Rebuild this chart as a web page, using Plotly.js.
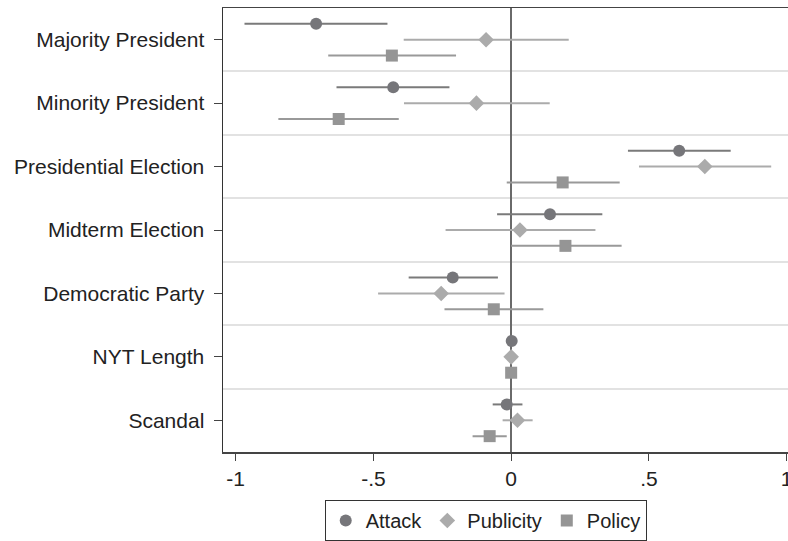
<!DOCTYPE html>
<html>
<head>
<meta charset="utf-8">
<script src="https://cdn.plot.ly/plotly-3.0.1.min.js"></script>
<style>html,body{margin:0;padding:0;background:#fff;}#chart{width:788px;height:541px;}</style>
</head>
<body>
<div id="chart"></div>
<script>
const categories = ["Majority President","Minority President","Presidential Election","Midterm Election","Democratic Party","NYT Length","Scandal"];

const attackEst   = [-0.708, -0.428, 0.610, 0.141, -0.212, 0.002, -0.016];
const attackLow   = [-0.968, -0.634, 0.424, -0.051, -0.372, -0.004, -0.067];
const attackHigh  = [-0.449, -0.224, 0.797, 0.331, -0.048, 0.008, 0.041];

const publicityEst  = [-0.091, -0.126, 0.703, 0.032, -0.254, 0.000, 0.023];
const publicityLow  = [-0.390, -0.389, 0.464, -0.238, -0.483, -0.006, -0.031];
const publicityHigh = [0.209, 0.140, 0.944, 0.306, -0.024, 0.006, 0.078];

const policyEst  = [-0.433, -0.626, 0.187, 0.197, -0.063, 0.000, -0.078];
const policyLow  = [-0.664, -0.845, -0.016, 0.000, -0.242, -0.006, -0.140];
const policyHigh = [-0.200, -0.408, 0.394, 0.401, 0.117, 0.006, -0.016];

const xTickVals = [-1, -0.5, 0, 0.5, 1];
const xTickText = ["-1", "-.5", "0", ".5", "1"];

const idx = categories.map((c, i) => i);

function series(name, est, low, high, offset, symbol, mColor, lColor, size) {
  return {
    type: "scatter", mode: "markers", name: name,
    x: est, y: idx.map(i => i + offset),
    marker: {symbol: symbol, color: mColor, size: size, line: {width: 0}},
    error_x: {type: "data", symmetric: false,
      array: est.map((v, i) => high[i] - v),
      arrayminus: est.map((v, i) => v - low[i]),
      color: lColor, thickness: 2, width: 0},
    hoverinfo: "x+name"
  };
}

const data = [
  series("Attack", attackEst, attackLow, attackHigh, -0.25, "circle", "#76767a", "#7a7a7a", 12),
  series("Publicity", publicityEst, publicityLow, publicityHigh, 0, "diamond", "#ababab", "#ababab", 12),
  series("Policy", policyEst, policyLow, policyHigh, 0.25, "square", "#959595", "#999999", 12)
];

const layout = {
  width: 788, height: 541,
  margin: {l: 223, r: 0, t: 8, b: 87},
  paper_bgcolor: "#fff", plot_bgcolor: "#fff",
  font: {family: "Liberation Sans, Arial, sans-serif", size: 21, color: "#222"},
  showlegend: true,
  legend: {orientation: "h", x: 0.465, xanchor: "center", y: -0.108, yanchor: "top",
    bordercolor: "#333", borderwidth: 1, font: {size: 20, color: "#222"},
    itemwidth: 30, tracegroupgap: 0},
  xaxis: {
    range: [-1.046, 1.005], tickmode: "array", tickvals: xTickVals, ticktext: xTickText,
    ticks: "outside", ticklen: 7, tickcolor: "#444", tickwidth: 1,
    showline: true, linecolor: "#444", linewidth: 1.5, mirror: true,
    showgrid: false, zeroline: true, zerolinecolor: "#6a6a6a", zerolinewidth: 2,
    tickfont: {size: 21, color: "#222"}, ticklabeloverflow: "allow", fixedrange: true
  },
  yaxis: {
    range: [6.5, -0.5], tickmode: "array", tickvals: idx, ticktext: categories,
    ticks: "outside", ticklen: 8, tickcolor: "#444", tickwidth: 1,
    showline: true, linecolor: "#333", linewidth: 1.5, ticklabelstandoff: 5,
    showgrid: false, zeroline: false,
    minor: {tickmode: "linear", tick0: 0.5, dtick: 1, showgrid: true, gridcolor: "#e2e2e2", gridwidth: 2, ticks: ""},
    tickfont: {size: 21, color: "#222"}, fixedrange: true
  }
};

Plotly.newPlot("chart", data, layout, {displayModeBar: false, staticPlot: true});
</script>
</body>
</html>
